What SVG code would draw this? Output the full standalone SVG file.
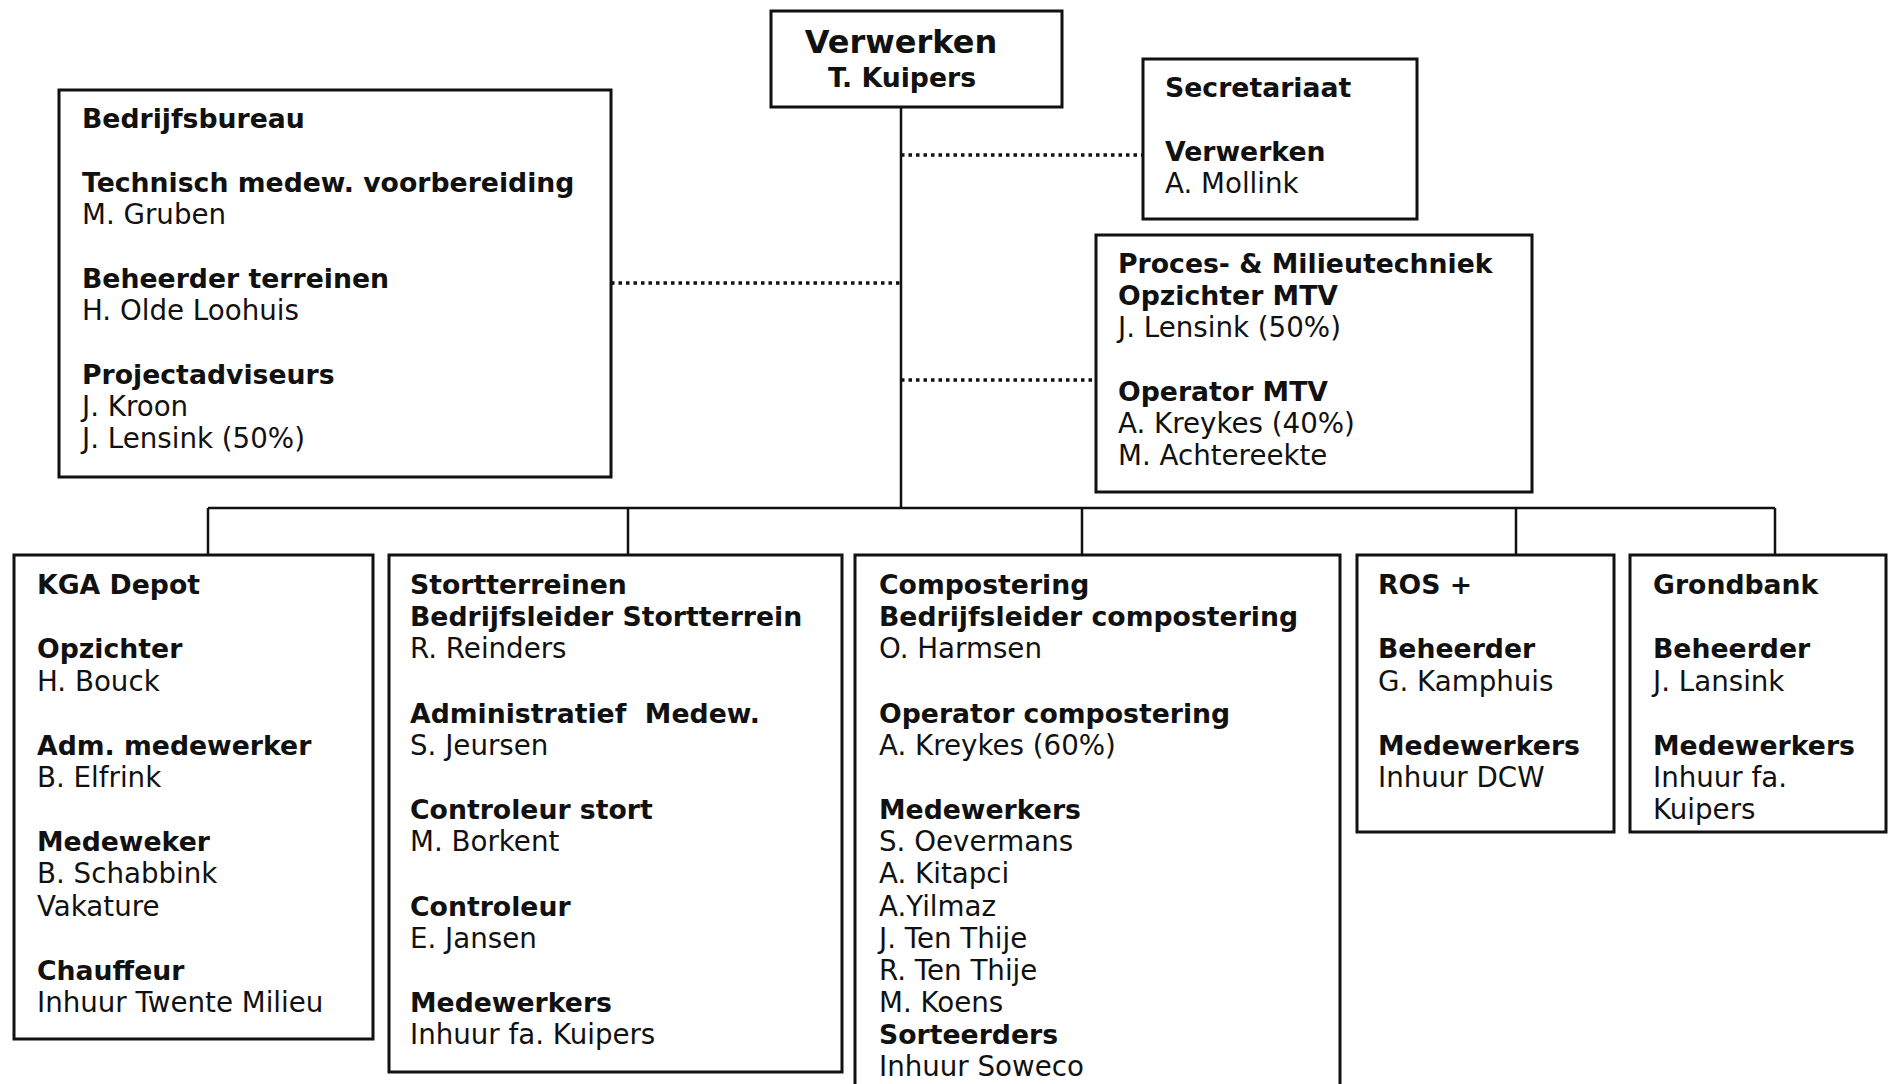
<svg xmlns="http://www.w3.org/2000/svg" width="1888" height="1084" viewBox="0 0 1888 1084">
<style>
.box{fill:#fff;stroke:#111;stroke-width:3}
.ln{fill:none;stroke:#111;stroke-width:2.5}
.dot{fill:none;stroke:#111;stroke-width:3.5;stroke-dasharray:3.5 4}
text{font-family:"DejaVu Sans",Verdana,sans-serif;fill:#111}
.b{font-weight:bold;font-size:26.7px}
.r{font-size:27.7px}
</style>
<rect width="1888" height="1084" fill="#fff"/>
<g id="connectors">
<path class="ln" d="M901 107V508M208 508H1775M208 508V555M628 508V555M1082 508V555M1516 508V555M1775 508V555"/>
<path class="dot" d="M901 155H1143M611 283H901M901 380H1096"/>
</g>
<g id="verwerken">
<rect class="box" x="771" y="11" width="291" height="96"/>
<text x="901" y="53" text-anchor="middle" style="font-weight:bold;font-size:32px">Verwerken</text>
<text class="b" x="902" y="87" text-anchor="middle">T. Kuipers</text>
</g>
<g id="secretariaat">
<rect class="box" x="1143" y="59" width="274" height="160"/>
<text class="b" x="1165" y="97">Secretariaat</text>
<text class="b" x="1165" y="161">Verwerken</text>
<text class="r" x="1165" y="193">A. Mollink</text>
</g>
<g id="proces">
<rect class="box" x="1096" y="235" width="436" height="257"/>
<text class="b" x="1118" y="273">Proces- &amp; Milieutechniek</text>
<text class="b" x="1118" y="305">Opzichter MTV</text>
<text class="r" x="1118" y="337">J. Lensink (50%)</text>
<text class="b" x="1118" y="401">Operator MTV</text>
<text class="r" x="1118" y="433">A. Kreykes (40%)</text>
<text class="r" x="1118" y="465">M. Achtereekte</text>
</g>
<g id="bedrijfsbureau">
<rect class="box" x="59" y="90" width="552" height="387"/>
<text class="b" x="82" y="128">Bedrijfsbureau</text>
<text class="b" x="82" y="192">Technisch medew. voorbereiding</text>
<text class="r" x="82" y="224">M. Gruben</text>
<text class="b" x="82" y="288">Beheerder terreinen</text>
<text class="r" x="82" y="320">H. Olde Loohuis</text>
<text class="b" x="82" y="384">Projectadviseurs</text>
<text class="r" x="82" y="416">J. Kroon</text>
<text class="r" x="82" y="448">J. Lensink (50%)</text>
</g>
<g id="kga">
<rect class="box" x="14" y="555" width="359" height="484"/>
<text class="b" x="37" y="594">KGA Depot</text>
<text class="b" x="37" y="658.3">Opzichter</text>
<text class="r" x="37" y="690.5">H. Bouck</text>
<text class="b" x="37" y="754.8">Adm. medewerker</text>
<text class="r" x="37" y="786.9">B. Elfrink</text>
<text class="b" x="37" y="851.2">Medeweker</text>
<text class="r" x="37" y="883.4">B. Schabbink</text>
<text class="r" x="37" y="915.5">Vakature</text>
<text class="b" x="37" y="979.8">Chauffeur</text>
<text class="r" x="37" y="1012">Inhuur Twente Milieu</text>
</g>
<g id="stortterreinen">
<rect class="box" x="389" y="555" width="453" height="517"/>
<text class="b" x="410" y="594">Stortterreinen</text>
<text class="b" x="410" y="626.2">Bedrijfsleider Stortterrein</text>
<text class="r" x="410" y="658.3">R. Reinders</text>
<text class="b" x="410" y="722.6" xml:space="preserve">Administratief  Medew.</text>
<text class="r" x="410" y="754.8">S. Jeursen</text>
<text class="b" x="410" y="819.1">Controleur stort</text>
<text class="r" x="410" y="851.2">M. Borkent</text>
<text class="b" x="410" y="915.5">Controleur</text>
<text class="r" x="410" y="947.7">E. Jansen</text>
<text class="b" x="410" y="1012">Medewerkers</text>
<text class="r" x="410" y="1044.1">Inhuur fa. Kuipers</text>
</g>
<g id="compostering">
<rect class="box" x="855" y="555" width="485" height="545"/>
<text class="b" x="879" y="594">Compostering</text>
<text class="b" x="879" y="626.2">Bedrijfsleider compostering</text>
<text class="r" x="879" y="658.3">O. Harmsen</text>
<text class="b" x="879" y="722.6">Operator compostering</text>
<text class="r" x="879" y="754.8">A. Kreykes (60%)</text>
<text class="b" x="879" y="819.1">Medewerkers</text>
<text class="r" x="879" y="851.2">S. Oevermans</text>
<text class="r" x="879" y="883.4">A. Kitapci</text>
<text class="r" x="879" y="915.5">A.Yilmaz</text>
<text class="r" x="879" y="947.7">J. Ten Thije</text>
<text class="r" x="879" y="979.8">R. Ten Thije</text>
<text class="r" x="879" y="1012">M. Koens</text>
<text class="b" x="879" y="1044.1">Sorteerders</text>
<text class="r" x="879" y="1076.3">Inhuur Soweco</text>
</g>
<g id="ros">
<rect class="box" x="1357" y="555" width="257" height="277"/>
<text class="b" x="1378" y="594">ROS +</text>
<text class="b" x="1378" y="658.3">Beheerder</text>
<text class="r" x="1378" y="690.5">G. Kamphuis</text>
<text class="b" x="1378" y="754.8">Medewerkers</text>
<text class="r" x="1378" y="786.9">Inhuur DCW</text>
</g>
<g id="grondbank">
<rect class="box" x="1630" y="555" width="256" height="277"/>
<text class="b" x="1653" y="594">Grondbank</text>
<text class="b" x="1653" y="658.3">Beheerder</text>
<text class="r" x="1653" y="690.5">J. Lansink</text>
<text class="b" x="1653" y="754.8">Medewerkers</text>
<text class="r" x="1653" y="786.9">Inhuur fa.</text>
<text class="r" x="1653" y="819.1">Kuipers</text>
</g>
</svg>
